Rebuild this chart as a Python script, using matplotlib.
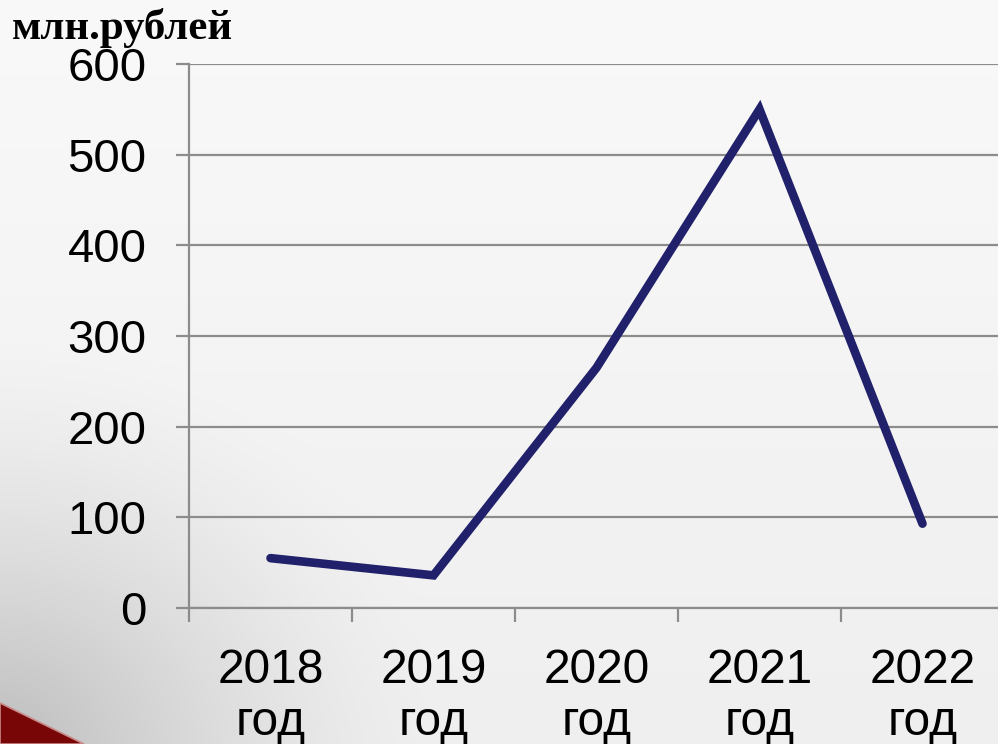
import numpy as np
import matplotlib
matplotlib.use("Agg")
import matplotlib.pyplot as plt
from matplotlib.patches import Polygon

# data
years = ["2018\nгод", "2019\nгод", "2020\nгод", "2021\nгод", "2022\nгод"]
values = [55, 36, 265, 550, 93]
y_ticks = [0, 100, 200, 300, 400, 500, 600]
unit_label = "млн.рублей"

W, H = 998, 744
fig = plt.figure(figsize=(W / 100, H / 100), dpi=100)

# background: light gray gradient, darker toward bottom-left
bg = fig.add_axes([0, 0, 1, 1], zorder=-10)
yy, xx = np.mgrid[0:H, 0:W]
base = 249 - 10 * (yy / H)
d = np.hypot(xx / W, (H - yy) / H * 0.8)
shade = np.clip(1 - d / 0.45, 0, 1) ** 1.5 * 50
img = np.clip(base - shade, 0, 255) / 255.0
bg.imshow(np.dstack([img, img, img]), extent=[0, W, 0, H], aspect="auto")
# red swoosh corner
bg.add_patch(Polygon([[0, 0], [0, 41], [84, 0]], closed=True,
                     facecolor="#780606", edgecolor="#c98a8a", lw=1.2))
bg.set_xlim(0, W)
bg.set_ylim(0, H)
bg.axis("off")

ax = fig.add_axes([189 / W, 136 / H, 815 / W, 544 / H])
ax.patch.set_alpha(0)
x = np.arange(1, len(values) + 1)
ax.plot(x, values, color="#20206b", lw=6.2, solid_capstyle="round",
        solid_joinstyle="miter", zorder=3)

ax.set_xlim(0.5, len(values) + 0.5)
ax.set_ylim(0, 600)
ax.set_yticks(y_ticks)
ax.set_yticklabels([str(v) for v in y_ticks], fontsize=34,
                   family="Liberation Sans")
ax.set_xticks(x)
ax.set_xticklabels(years, fontsize=34.5, family="Liberation Sans",
                   linespacing=1.22)
ax.set_xticks(np.arange(0.5, len(values) + 1, 1), minor=True)

gc = "#8c8c8c"
ax.grid(axis="y", color=gc, lw=1.6, zorder=1)
ax.set_axisbelow(True)
for s in ["top", "right"]:
    ax.spines[s].set_visible(False)
for s in ["left", "bottom"]:
    ax.spines[s].set_color(gc)
    ax.spines[s].set_linewidth(1.6)
ax.tick_params(axis="y", length=9.5, width=1.6, color=gc, pad=21)
ax.tick_params(axis="x", which="major", length=0, pad=28.5)
ax.tick_params(axis="x", which="minor", length=10, width=1.6, color=gc)

fig.text(12 / W, 1 - 28 / H, unit_label, fontsize=31, fontweight="bold",
         family="Liberation Serif", ha="left", va="center")

fig.savefig("out.png", dpi=100)
